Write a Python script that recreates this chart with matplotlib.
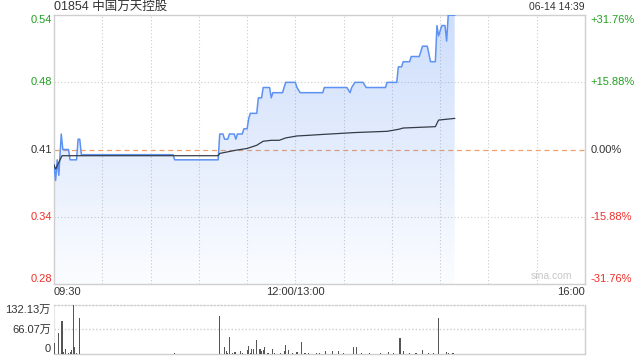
import numpy as np
import matplotlib
matplotlib.use('Agg')
import matplotlib.pyplot as plt
import matplotlib.transforms as mtransforms
from matplotlib.colors import LinearSegmentedColormap

plt.rcParams['font.family'] = ['Liberation Sans', 'Noto Sans CJK SC', 'DejaVu Sans']

# 基本信息
title = '01854 中国万天控股'
stamp = '06-14 14:39'
prev_close = 0.41

# 价格刻度(左)与涨跌幅刻度(右)
price_ticks = [0.5402, 0.4751, 0.41, 0.3449, 0.2798]
price_labels = ['0.54', '0.48', '0.41', '0.34', '0.28']
pct_labels = ['+31.76%', '+15.88%', '0.00%', '-15.88%', '-31.76%']

# 时间轴 (分钟, 09:30 起, 午休不计)
time_ticks = [0, 150, 330]
time_labels = ['09:30', '12:00/13:00', '16:00']

# 分时价格
price_min = [0, 1, 2, 3, 4.5, 5.5, 9, 10, 14, 15, 16, 17, 74, 75, 102, 103, 105, 106, 108, 109,
             112, 113, 114, 117, 118, 120, 121, 122, 126, 127, 129, 130, 134, 135, 136, 142, 144,
             150, 151, 153, 167, 168, 182, 184, 185, 187, 192, 194, 206, 207, 213, 214, 216, 217,
             221, 222, 227, 229, 232, 234, 237, 238, 239, 241, 243, 244, 245, 249]
price_val = [0.395, 0.38, 0.40, 0.385, 0.425, 0.41, 0.41, 0.40, 0.40, 0.42, 0.42, 0.405, 0.405,
             0.40, 0.40, 0.425, 0.425, 0.42, 0.42, 0.425, 0.425, 0.42, 0.425, 0.425, 0.43, 0.43,
             0.44, 0.445, 0.445, 0.46, 0.46, 0.47, 0.47, 0.46, 0.465, 0.465, 0.475, 0.475, 0.47,
             0.465, 0.465, 0.47, 0.47, 0.465, 0.47, 0.475, 0.475, 0.47, 0.47, 0.475, 0.475, 0.49,
             0.49, 0.495, 0.495, 0.50, 0.50, 0.51, 0.51, 0.495, 0.495, 0.53, 0.52, 0.53, 0.53,
             0.515, 0.54, 0.54]

# 均价线
avg_min = [0, 1, 5, 102, 103, 113, 120, 126, 130, 135, 140, 144, 151, 159, 168, 176, 187, 207,
           214, 217, 237, 239, 249]
avg_val = [0.395, 0.391, 0.404, 0.404, 0.4062, 0.4093, 0.411, 0.4141, 0.418, 0.4189, 0.4189,
           0.4212, 0.4231, 0.4238, 0.4247, 0.4254, 0.4264, 0.4276, 0.4295, 0.4308, 0.4321,
           0.4385, 0.4401]

# 成交量 (万股)
vol_min = [0, 3, 5, 6, 7, 9, 10, 11, 12, 13, 14, 16, 75, 103, 106, 107, 108, 109, 111, 112, 113,
           116, 117, 120, 121, 122, 123, 124, 126, 128, 129, 130, 131, 133, 136, 137, 141, 143,
           144, 146, 148, 151, 154, 156, 158, 163, 165, 169, 173, 177, 180, 186, 188, 191, 196,
           203, 208, 211, 215, 217, 221, 225, 229, 233, 236, 239, 244, 245, 248]
vol_val = [30, 57, 90, 6, 14, 3, 6, 11, 132.13, 19, 2, 98, 3, 103, 19, 8, 4, 47, 3, 5, 5,
           9, 3, 11, 22, 3, 14, 14, 38, 14, 9, 11, 18, 3, 14, 3, 3, 8,
           24, 11, 2, 6, 32, 3, 2, 2, 2, 8, 8, 8, 2, 20, 20, 3, 3,
           3, 5, 3, 44, 8, 3, 3, 11, 3, 3, 98, 6, 3, 3]
vol_ticks = [132.13, 66.07, 0]
vol_labels = ['132.13万', '66.07万', '0']

up_color = '#21a121'
down_color = '#f0302a'
text_color = '#333333'
grid_color = '#cccccc'
border_color = '#cfcfcf'

fig = plt.figure(figsize=(6.4, 3.6), dpi=100)
ax = fig.add_axes([54 / 640, 1 - 284 / 360, 531 / 640, 269 / 360])
axv = fig.add_axes([54 / 640, 1 - 354 / 360, 531 / 640, 49 / 360])

ylo, yhi = price_ticks[-1], price_ticks[0]
ax.set_xlim(0, 330)
ax.set_ylim(ylo, yhi)

# 网格
for t in range(30, 330, 30):
    ax.axvline(t, color=grid_color, lw=0.8, ls=(0, (1, 2)), zorder=1)
for p in price_ticks[1:-1]:
    if p == prev_close:
        ax.axhline(p, color='#f0a070', lw=0.9, ls=(0, (4, 3)), zorder=2)
    else:
        ax.axhline(p, color=grid_color, lw=0.8, ls=(0, (1, 2)), zorder=1)

# 渐变填充
cmap = LinearSegmentedColormap.from_list('fill', [(0.25, 0.5, 0.95, 0.26), (0.25, 0.5, 0.95, 0.02)])
grad = np.linspace(0, 1, 256).reshape(-1, 1)
poly = ax.fill_between(price_min, price_val, ylo, color='none', lw=0)
img = ax.imshow(grad, cmap=cmap, aspect='auto', extent=[0, 330, ylo, yhi], origin='upper', zorder=2)
img.set_clip_path(poly.get_paths()[0], transform=ax.transData)

ax.plot(price_min, price_val, color='#5e92f2', lw=1.1, zorder=4)
ax.plot(avg_min, avg_val, color='#343c48', lw=0.9, zorder=4)

ax.set_xticks([])
ax.set_yticks([])
for s in ax.spines.values():
    s.set_color(border_color)
    s.set_linewidth(1)

# 左右刻度文字
trans_l = mtransforms.blended_transform_factory(ax.transAxes, ax.transData)
for i, (p, lab, pl) in enumerate(zip(price_ticks, price_labels, pct_labels)):
    if p > prev_close:
        c = up_color
    elif p < prev_close:
        c = down_color
    else:
        c = text_color
    va = 'top' if i == 0 else ('bottom' if i == len(price_ticks) - 1 else 'center')
    ax.text(-0.004, p, lab, transform=trans_l, ha='right', va=va, fontsize=8, color=c)
    ax.text(1.01, p, pl, transform=trans_l, ha='left', va=va, fontsize=8, color=c)

# 时间文字
for t, lab in zip(time_ticks, time_labels):
    ha = 'left' if t == 0 else ('right' if t == 330 else 'center')
    ax.text(t, -0.012, lab, transform=mtransforms.blended_transform_factory(ax.transData, ax.transAxes),
            ha=ha, va='top', fontsize=8, color=text_color)

ax.text(0, 1.008, title, transform=ax.transAxes, ha='left', va='bottom', fontsize=9, color=text_color)
ax.text(1, 1.012, stamp, transform=ax.transAxes, ha='right', va='bottom', fontsize=7.5, color=text_color)
ax.text(0.975, 0.012, 'sina.com', transform=ax.transAxes, ha='right', va='bottom', fontsize=7.5,
        color='#c8c8c8')

# 成交量
axv.set_xlim(0, 330)
axv.set_ylim(0, vol_ticks[0])
axv.bar(vol_min, vol_val, width=0.7, color='#555555', zorder=3)
axv.axhline(vol_ticks[1], color=grid_color, lw=1, ls=(0, (1, 1.5)), zorder=1)
axv.set_xticks([])
axv.set_yticks([])
for name, s in axv.spines.items():
    s.set_color(border_color)
    s.set_linewidth(1)
axv.spines['top'].set_linestyle((0, (1, 1.5)))
axv.spines['left'].set_visible(False)
axv.axvline(0, color='#e6e6e6', lw=0.8, zorder=1)
trans_v = mtransforms.blended_transform_factory(axv.transAxes, axv.transData)
for i, (v, lab) in enumerate(zip(vol_ticks, vol_labels)):
    va = 'top' if i == 0 else ('bottom' if i == len(vol_ticks) - 1 else 'center')
    axv.text(-0.006, v, lab, transform=trans_v, ha='right', va=va, fontsize=8, color=text_color)

fig.savefig('out.png', dpi=100)
